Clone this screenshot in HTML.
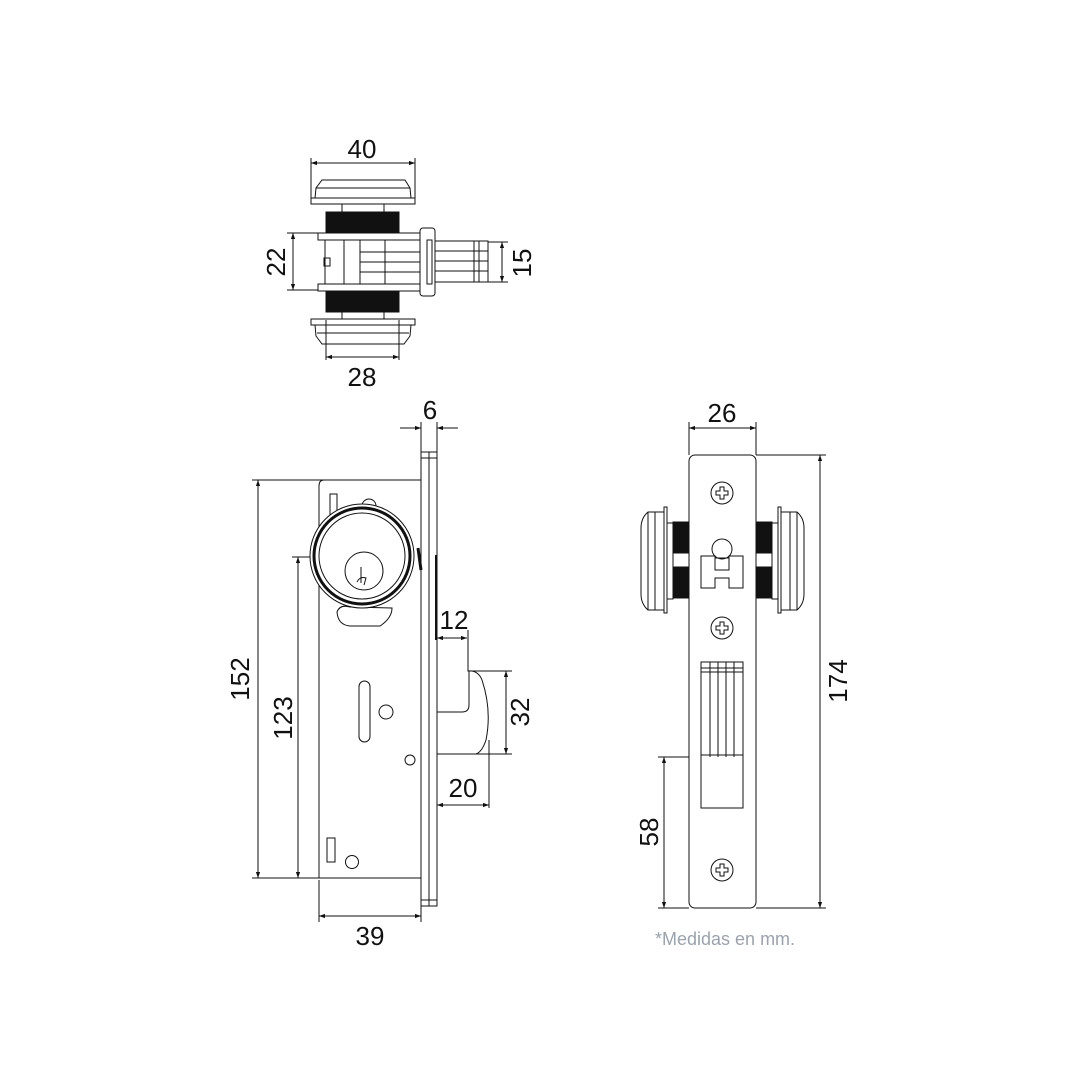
<!DOCTYPE html>
<html><head><meta charset="utf-8"><style>
html,body{margin:0;padding:0;background:#fff}
svg{display:block}
text{font-family:"Liberation Sans",Arial,sans-serif;fill:#111}
</style></head><body>
<svg width="1080" height="1080" viewBox="0 0 1080 1080" xmlns="http://www.w3.org/2000/svg">
<defs>
<marker id="a" viewBox="0 0 10 10" refX="10" refY="5" markerWidth="9" markerHeight="6" orient="auto-start-reverse" markerUnits="userSpaceOnUse"><path d="M0,1.5 L10,5 L0,8.5 Z" fill="#111"/></marker>
</defs>
<g stroke="#111" stroke-width="1" fill="none">
<!-- ===== TOP VIEW ===== -->
<line x1="311" y1="163" x2="415" y2="163" marker-start="url(#a)" marker-end="url(#a)"/>
<line x1="311" y1="158" x2="311" y2="200"/><line x1="415" y1="158" x2="415" y2="200"/>
<path d="M311 204 L311 198 L315 198 L316 188 L322 180 L405 180 L410 188 L411 198 L415 198 L415 204 Z" fill="#fff"/>
<line x1="316" y1="188" x2="410" y2="188"/><line x1="315" y1="198" x2="411" y2="198"/>
<rect x="342" y="204" width="42" height="8"/>
<rect x="326" y="212" width="73" height="20" fill="#111"/>
<rect x="318" y="233" width="102" height="7" fill="#fff"/>
<rect x="318" y="284" width="102" height="7" fill="#fff"/>
<rect x="325" y="240" width="95" height="44"/>
<line x1="344" y1="240" x2="344" y2="284"/><line x1="360" y1="240" x2="360" y2="284"/>
<line x1="385" y1="240" x2="385" y2="284"/>
<line x1="360" y1="252" x2="420" y2="252"/><line x1="360" y1="262" x2="420" y2="262"/><line x1="360" y1="272" x2="420" y2="272"/>
<rect x="324" y="258" width="6" height="8"/>
<rect x="420" y="228" width="15" height="68" rx="3" fill="#fff"/>
<rect x="427" y="240" width="5" height="44"/>
<rect x="435" y="241" width="53" height="41"/>
<line x1="435" y1="251" x2="488" y2="251"/><line x1="435" y1="261" x2="488" y2="261"/><line x1="435" y1="271" x2="488" y2="271"/>
<line x1="474" y1="241" x2="474" y2="282"/><line x1="479" y1="241" x2="479" y2="282"/>
<rect x="326" y="292" width="73" height="20" fill="#111"/>
<rect x="342" y="312" width="42" height="7"/>
<path d="M311 319 L415 319 L415 325 L411 325 L410 336 L404 344 L322 344 L316 336 L315 325 L311 325 Z" fill="#fff"/>
<line x1="315" y1="325" x2="411" y2="325"/><line x1="317" y1="333" x2="409" y2="333"/>
<line x1="326" y1="320" x2="326" y2="360"/><line x1="399" y1="320" x2="399" y2="360"/>
<line x1="326" y1="357" x2="399" y2="357" marker-start="url(#a)" marker-end="url(#a)"/>
<line x1="287" y1="233" x2="318" y2="233"/><line x1="287" y1="290" x2="318" y2="290"/>
<line x1="293" y1="233" x2="293" y2="290" marker-start="url(#a)" marker-end="url(#a)"/>
<line x1="488" y1="242" x2="508" y2="242"/><line x1="488" y1="282" x2="508" y2="282"/>
<line x1="502" y1="242" x2="502" y2="282" marker-start="url(#a)" marker-end="url(#a)"/>

<!-- ===== FRONT VIEW ===== -->
<line x1="400" y1="428" x2="421" y2="428" marker-end="url(#a)"/>
<line x1="458" y1="428" x2="437" y2="428" marker-end="url(#a)"/>
<line x1="421" y1="422" x2="421" y2="452"/><line x1="437" y1="422" x2="437" y2="452"/>
<rect x="421" y="452" width="16" height="454" fill="#fff"/>
<line x1="429" y1="452" x2="429" y2="906"/><line x1="421" y1="458" x2="437" y2="458"/><line x1="421" y1="900" x2="437" y2="900"/>
<line x1="436" y1="555" x2="436" y2="640" stroke-width="2"/>
<path d="M421 480 L324 480 Q319 480 319 486 L319 878 L421 878"/>
<line x1="252" y1="480" x2="324" y2="480"/><line x1="252" y1="878" x2="319" y2="878"/>
<line x1="258" y1="480" x2="258" y2="878" marker-start="url(#a)" marker-end="url(#a)"/>
<line x1="292" y1="557" x2="362" y2="557"/>
<line x1="298" y1="557" x2="298" y2="878" marker-start="url(#a)" marker-end="url(#a)"/>
<line x1="319" y1="880" x2="319" y2="922"/><line x1="421" y1="906" x2="421" y2="922"/>
<line x1="319" y1="916" x2="421" y2="916" marker-start="url(#a)" marker-end="url(#a)"/>
<rect x="330" y="494" width="7" height="26"/>
<path d="M362 506 A7 7 0 0 1 376 506"/>
<path d="M337 612 Q340 604 350 607 L392 608 Q392 618 380 626 L350 626 Q338 625 337 612 Z" fill="#fff"/>
<circle cx="362" cy="556" r="52" fill="#fff"/>
<circle cx="362" cy="556" r="48" stroke-width="3"/>
<circle cx="362" cy="556" r="43"/>
<circle cx="364" cy="571" r="19"/>
<path d="M361 567 L361 583 M357 582 Q360 576 366 578 L364 585"/>
<line x1="418" y1="548" x2="421" y2="570" stroke-width="3"/>
<rect x="359" y="681" width="11" height="61" rx="5.5"/>
<circle cx="386" cy="712" r="7"/>
<circle cx="410" cy="760" r="5"/>
<rect x="327" y="838" width="8" height="24"/>
<circle cx="352" cy="862" r="6.5"/>
<line x1="437" y1="638" x2="467" y2="638" marker-start="url(#a)" marker-end="url(#a)"/>
<path d="M468 630 L468 671 Q478 670 482 680 Q492 710 486 740 Q482 752 476 754 L437 754"/>
<path d="M469 671 L469 705 Q469 712 462 712 L437 712"/>
<line x1="470" y1="671" x2="512" y2="671"/><line x1="476" y1="754" x2="512" y2="754"/>
<line x1="506" y1="671" x2="506" y2="754" marker-start="url(#a)" marker-end="url(#a)"/>
<line x1="489" y1="740" x2="489" y2="808"/>
<line x1="437" y1="805" x2="489" y2="805" marker-start="url(#a)" marker-end="url(#a)"/>

<!-- ===== SIDE VIEW ===== -->
<line x1="689" y1="422" x2="689" y2="455"/><line x1="756" y1="422" x2="756" y2="455"/>
<line x1="689" y1="428" x2="756" y2="428" marker-start="url(#a)" marker-end="url(#a)"/>
<line x1="756" y1="455" x2="826" y2="455"/><line x1="756" y1="908" x2="826" y2="908"/>
<line x1="820" y1="455" x2="820" y2="908" marker-start="url(#a)" marker-end="url(#a)"/>
<line x1="658" y1="757" x2="743" y2="757"/><line x1="658" y1="908" x2="689" y2="908"/>
<line x1="664" y1="757" x2="664" y2="908" marker-start="url(#a)" marker-end="url(#a)"/>
<path d="M665 512 L648 512 Q641 518 641 528 L641 594 Q641 604 648 610 L665 610 Z" fill="#fff"/>
<line x1="648" y1="512" x2="648" y2="610"/><line x1="655" y1="512" x2="655" y2="610"/>
<rect x="664" y="507" width="3" height="106" fill="#fff"/>
<rect x="667" y="523" width="6" height="76"/>
<rect x="673" y="522" width="16" height="76" fill="#111"/>
<rect x="673" y="553" width="16" height="14" fill="#fff"/>
<path d="M780 512 L797 512 Q804 518 804 528 L804 594 Q804 604 797 610 L780 610 Z" fill="#fff"/>
<line x1="797" y1="512" x2="797" y2="610"/><line x1="790" y1="512" x2="790" y2="610"/>
<rect x="778" y="507" width="3" height="106" fill="#fff"/>
<rect x="772" y="523" width="6" height="76"/>
<rect x="756" y="522" width="16" height="76" fill="#111"/>
<rect x="756" y="553" width="16" height="14" fill="#fff"/>
<rect x="689" y="455" width="67" height="453" rx="6" fill="#fff"/>
<g>
<circle cx="722" cy="493" r="11"/><path d="M720 487h4v4h4v4h-4v4h-4v-4h-4v-4h4z"/>
<circle cx="722" cy="628" r="11"/><path d="M720 622h4v4h4v4h-4v4h-4v-4h-4v-4h4z"/>
<circle cx="722" cy="870" r="11"/><path d="M720 864h4v4h4v4h-4v4h-4v-4h-4v-4h4z"/>
</g>
<circle cx="722" cy="549" r="10"/>
<path d="M701 556 L715 556 L715 570 L729 570 L729 556 L743 556 L743 588 L729 588 L729 578 L715 578 L715 588 L701 588 Z" fill="#fff"/>
<rect x="715" y="558" width="14" height="12"/>
<rect x="701" y="662" width="42" height="146"/>
<line x1="701" y1="668" x2="743" y2="668"/><line x1="701" y1="672" x2="743" y2="672"/>
<line x1="710" y1="662" x2="710" y2="757"/><line x1="718" y1="662" x2="718" y2="757"/>
<line x1="726" y1="662" x2="726" y2="757"/><line x1="734" y1="662" x2="734" y2="757"/>
<line x1="701" y1="755" x2="743" y2="755"/>
</g>
<g font-size="26" text-anchor="middle">
<text x="362" y="158">40</text>
<text x="362" y="386">28</text>
<text transform="translate(285 262) rotate(-90)">22</text>
<text transform="translate(531 263) rotate(-90)">15</text>
<text x="430" y="419">6</text>
<text transform="translate(249 679) rotate(-90)">152</text>
<text transform="translate(292 718) rotate(-90)">123</text>
<text x="370" y="945">39</text>
<text x="454" y="629">12</text>
<text transform="translate(529 712) rotate(-90)">32</text>
<text x="463" y="797">20</text>
<text x="722" y="422">26</text>
<text transform="translate(847 681) rotate(-90)">174</text>
<text transform="translate(658 832) rotate(-90)">58</text>
</g>
<text x="655" y="945" font-size="18" style="fill:#9aa3ad">*Medidas en mm.</text>
</svg>
</body></html>
